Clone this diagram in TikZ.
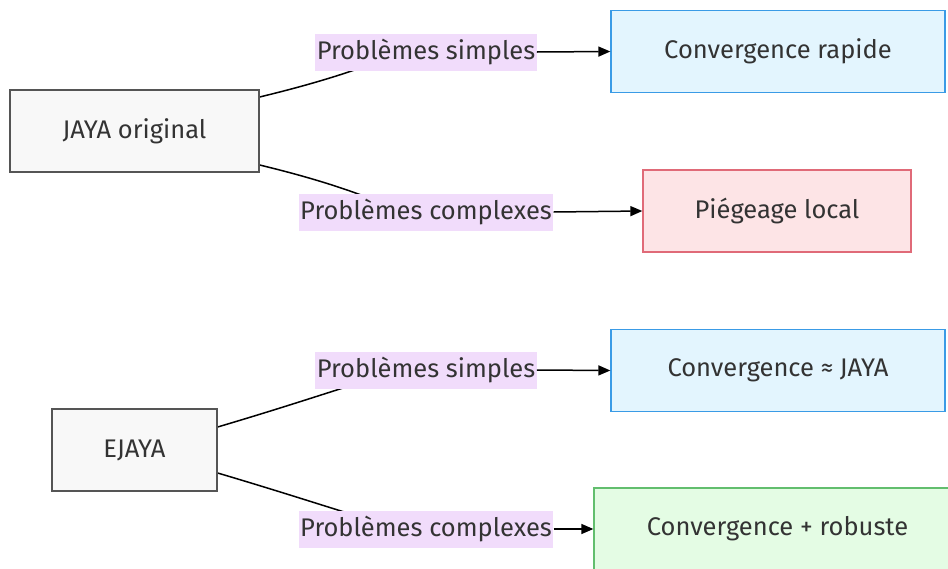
\documentclass[tikz,border=0pt]{standalone}
\usepackage{fontspec}
\setmainfont{Fira Sans}
\usetikzlibrary{arrows.meta,backgrounds}
\definecolor{txt}{HTML}{333333}
\definecolor{grayfill}{HTML}{F8F8F8}
\definecolor{graydraw}{HTML}{555555}
\definecolor{bluefill}{HTML}{E3F5FE}
\definecolor{bluedraw}{HTML}{3A9BE6}
\definecolor{redfill}{HTML}{FDE4E6}
\definecolor{reddraw}{HTML}{E06A78}
\definecolor{greenfill}{HTML}{E4FCE4}
\definecolor{greendraw}{HTML}{62BE6E}
\definecolor{lblbg}{HTML}{F1DCFB}
\begin{document}
\begin{tikzpicture}[x=1pt,y=-1pt,
  font=\fontsize{25.5}{30}\selectfont, text=txt,
  boxnode/.style={draw, line width=1.3pt, minimum height=82pt, inner sep=0pt},
  graybox/.style={boxnode, fill=grayfill, draw=graydraw},
  bluebox/.style={boxnode, fill=bluefill, draw=bluedraw},
  redbox/.style={boxnode, fill=redfill, draw=reddraw},
  greenbox/.style={boxnode, fill=greenfill, draw=greendraw},
  elabel/.style={fill=lblbg, inner xsep=1.5pt, inner ysep=0pt, minimum height=37pt},
  edge/.style={draw=black, line width=1.5pt},
  arr/.style={edge, -{Triangle[length=12pt,width=10pt]}}]
\clip (0,0) rectangle (948,568);
% nodes
\node[graybox, minimum width=249pt] (jaya) at (134.5,131) {JAYA original};
\node[bluebox, minimum width=334pt] (rapide) at (778,51.5) {Convergence rapide};
\node[redbox, minimum width=268pt] (piege) at (777,211) {Piégeage local};
\node[graybox, minimum width=165pt] (ejaya) at (134.5,450) {EJAYA};
\node[bluebox, minimum width=334pt] (approx) at (778,370.5) {Convergence ≈ JAYA};
\node[greenbox, minimum width=367pt] (robuste) at (777.5,529) {Convergence + robuste};
% labels
\node[elabel] (l1) at (426,52) {Problèmes simples};
\node[elabel] (l2) at (426,212) {Problèmes complexes};
\node[elabel] (l3) at (426,370) {Problèmes simples};
\node[elabel] (l4) at (426,529) {Problèmes complexes};
% edges
\begin{scope}[on background layer]
\coordinate (j1) at ([yshift=34pt]jaya.east);
\coordinate (j2) at ([yshift=-34pt]jaya.east);
\coordinate (e1) at ([yshift=23pt]ejaya.east);
\coordinate (e2) at ([yshift=-23pt]ejaya.east);
\draw[edge] (j1) .. controls +(120,-29) and +(-40,0) .. (l1.center);
\draw[edge] (j2) .. controls +(120,29) and +(-40,0) .. (l2.center);
\draw[edge] (e1) .. controls +(135,-40) and +(-40,0) .. (l3.center);
\draw[edge] (e2) .. controls +(135,40) and +(-40,0) .. (l4.center);
\end{scope}
\draw[arr] (l1.east) -- (rapide.west);
\draw[arr] (l2.east) -- (piege.west);
\draw[arr] (l3.east) -- (approx.west);
\draw[arr] (l4.east) -- (robuste.west);
\end{tikzpicture}
\end{document}
